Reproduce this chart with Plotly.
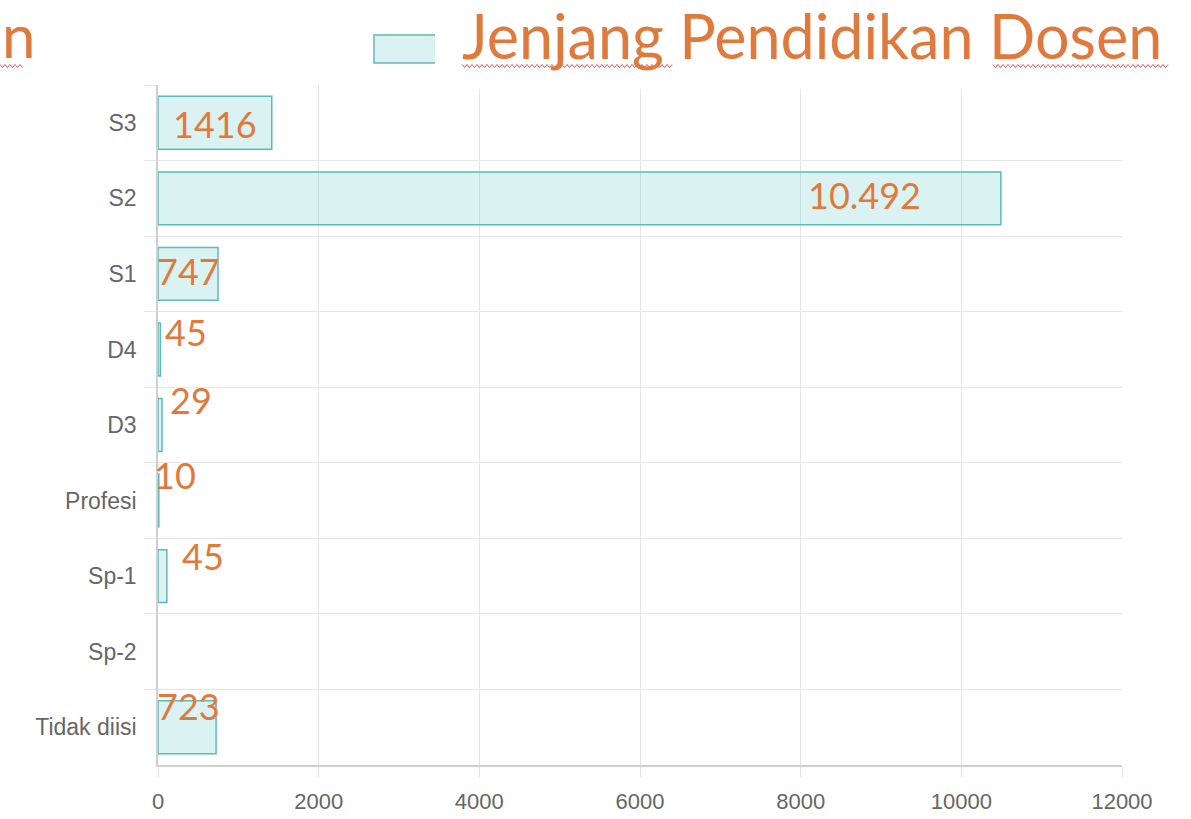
import plotly.graph_objects as go

categories = ["S3", "S2", "S1", "D4", "D3", "Profesi", "Sp-1", "Sp-2", "Tidak diisi"]
values = [1416, 10492, 747, 30, 50, 10, 110, 0, 723]
value_labels = ["1416", "10.492", "747", "45", "29", "10", "45", "", "723"]
x_ticks = [0, 2000, 4000, 6000, 8000, 10000, 12000]
title_text = "Jenjang Pendidikan Dosen"

W, H = 1191, 819
PL, PR, PT, PB = 158, 1122, 85, 765          # plot box in page pixels
L, R, T, B = PL, W - PR, PT, H - PB
PW, PH = PR - PL, PB - PT

def px(x):
    return (x - PL) / PW

def py(y):
    return (PB - y) / PH

ORANGE = "#E07A3C"
GRID = "#e6e6e6"

fig = go.Figure()
fig.add_trace(go.Bar(
    x=values, y=categories, orientation="h",
    marker=dict(color="rgba(75,192,192,0.2)",
                line=dict(color="rgb(95,185,185)",
                          width=[1.5 if v > 0 else 0 for v in values])),
    width=0.7, showlegend=False, hoverinfo="skip",
))

# label placement style: (anchor, x pixel shift, y pixel shift)
label_style = [
    ("zero", 13, -1), ("end", -78, 3), ("zero", -3, 3), ("zero", 5, 17),
    ("zero", 10, 25), ("zero", -6, 26), ("zero", 22, 20), ("zero", 0, 0), ("zero", -3, 21),
]
for cat, val, lab, (anc, dx, dy) in zip(categories, values, value_labels, label_style):
    if not lab:
        continue
    fig.add_annotation(
        x=val if anc == "end" else 0, y=cat, xref="x", yref="y",
        text=lab, showarrow=False,
        xanchor="right" if anc == "end" else "left", yanchor="middle",
        xshift=dx, yshift=dy,
        font=dict(family="Lato", size=36, color=ORANGE),
    )

# legend swatch (partly hidden under the title box)
fig.add_shape(type="rect", xref="paper", yref="paper",
              x0=px(374), x1=px(450), y0=py(63), y1=py(35),
              fillcolor="rgba(75,192,192,0.2)", line=dict(color="rgb(95,185,185)", width=1.5),
              layer="above")
# white title box
fig.add_shape(type="rect", xref="paper", yref="paper",
              x0=px(435), x1=px(1200), y0=py(89), y1=py(-5),
              fillcolor="white", line=dict(width=0), layer="above")

# red spell-check squiggles
def squiggle(x0, x1, y):
    pts = []
    x = x0
    k = 0
    while x <= x1:
        pts.append((px(x), py(y + (1.5 if k % 2 else -1.5))))
        x += 2.5
        k += 1
    return "M " + " L ".join(f"{a:.5f},{b:.5f}" for a, b in pts)

for sx0, sx1 in [(0, 24), (462, 672), (993, 1170)]:
    fig.add_shape(type="path", xref="paper", yref="paper", path=squiggle(sx0, sx1, 66),
                  line=dict(color="rgba(220,40,40,0.8)", width=1), layer="above")

fig.add_annotation(x=px(460), y=py(35), xref="paper", yref="paper",
                   text=title_text, showarrow=False, xanchor="left", yanchor="middle",
                   font=dict(family="Lato", size=61, color=ORANGE))
fig.add_annotation(x=px(0), y=py(35), xref="paper", yref="paper",
                   text="n", showarrow=False, xanchor="left", yanchor="middle",
                   font=dict(family="Lato", size=60, color=ORANGE))

fig.update_layout(
    width=W, height=H,
    margin=dict(l=L, r=R, t=T, b=B, autoexpand=False),
    plot_bgcolor="white", paper_bgcolor="white",
    bargap=0.3,
)
fig.update_xaxes(
    range=[0, 12000], tickvals=x_ticks, ticktext=[str(v) for v in x_ticks],
    showgrid=True, gridcolor=GRID, gridwidth=1,
    zeroline=False, showline=True, linecolor="#cfcfcf", linewidth=1.5,
    ticks="outside", ticklen=10, tickcolor=GRID,
    tickfont=dict(family="Liberation Sans", size=22, color="#666666"),
    ticklabelstandoff=6,
)
fig.update_yaxes(
    type="category", categoryorder="array", categoryarray=categories,
    range=[len(categories) - 0.5, -0.5], autorange=False, tickson="boundaries",
    showgrid=True, gridcolor=GRID, gridwidth=1,
    showline=True, linecolor="#cfcfcf", linewidth=1.5,
    ticks="outside", ticklen=12, tickcolor=GRID,
    tickfont=dict(family="Liberation Sans", size=23, color="#666666"),
    ticklabelstandoff=15,
)

fig.write_html("out.html", config={"displayModeBar": False},
               post_script="document.body.style.margin='0';")
